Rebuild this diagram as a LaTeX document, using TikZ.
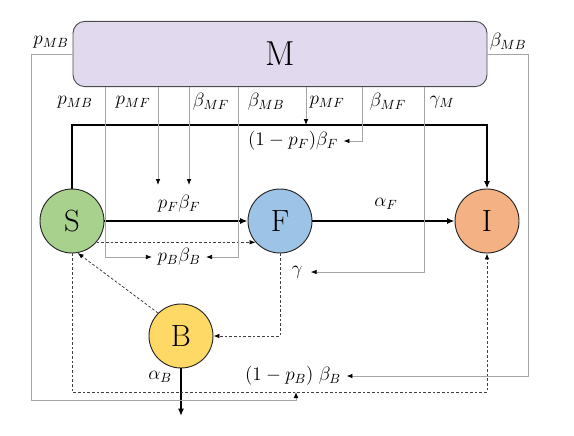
\documentclass[tikz,border=0pt]{standalone}
\usetikzlibrary{arrows.meta}
\definecolor{lav}{RGB}{225,218,238}
\definecolor{cS}{RGB}{169,209,142}
\definecolor{cF}{RGB}{157,195,230}
\definecolor{cI}{RGB}{244,177,131}
\definecolor{cB}{RGB}{255,217,102}
\definecolor{gl}{RGB}{165,165,165}
\begin{document}
\begin{tikzpicture}[x=0.75pt,y=-0.75pt,
  state/.style={circle,draw=black!85,line width=0.7pt,minimum size=48pt,inner sep=0pt,font=\fontsize{23}{23}\selectfont},
  lab/.style={inner sep=0pt,font=\fontsize{14.5}{16}\selectfont},
  gline/.style={draw=gl,line width=0.6pt},
  garr/.style={gline,-{Latex[length=4.5pt,width=3.5pt,color=black]}},
  mainarr/.style={line width=1.1pt,-{Latex[length=5.5pt,width=4.5pt]}},
  dasharr/.style={draw=black!75,line width=0.6pt,dash pattern=on 2pt off 1.5pt,-{Latex[length=4.5pt,width=3.5pt,color=black]}}]
\useasboundingbox (0,0) rectangle (574,435);

\node[draw=black!70,line width=0.7pt,fill=lav,rounded corners=9pt,minimum width=310.5pt,minimum height=49pt,inner sep=0pt,font=\fontsize{26}{26}\selectfont] (M) at (280,54) {M};

\node[state,fill=cS] (S) at (72,221) {S};
\node[state,fill=cF] (F) at (280,221) {F};
\node[state,fill=cI] (I) at (487,221) {I};
\node[state,fill=cB] (B) at (181,336) {B};

% helper coordinates
\coordinate (top) at (0,125);
\coordinate (bot) at (0,392);
\coordinate (outer) at (0,400);
\coordinate (xL) at (31,0);
\coordinate (xR) at (528,0);
\coordinate (x1) at (105,0);
\coordinate (x2) at (158,0);
\coordinate (x3) at (189,0);
\coordinate (x4) at (238,0);
\coordinate (x5) at (306,0);
\coordinate (x6) at (362,0);
\coordinate (x7) at (424,0);
\coordinate (xA) at (296,0);
\coordinate (ymid) at (0,185);

% labels
\node[lab] (lpMBl) at (51,42) {$p_{MB}$};
\node[lab] (lbMBr) at (508,42) {$\beta_{MB}$};
\node[lab] (l1) at (75,102) {$p_{MB}$};
\node[lab] (l2) at (133,102) {$p_{MF}$};
\node[lab] (l3) at (211,102) {$\beta_{MF}$};
\node[lab] (l4) at (266,102) {$\beta_{MB}$};
\node[lab] (l5) at (327,102) {$p_{MF}$};
\node[lab] (l6) at (388,102) {$\beta_{MF}$};
\node[lab] (l7) at (442,102) {$\gamma_{M}$};
\node[lab] (pFbF) at (179,204) {$p_F\beta_F$};
\node[lab] (pBbB) at (179,257) {$p_B\beta_B$};
\node[lab] (opF) at (293,141) {$(1-p_F)\beta_F$};
\node[lab] (gam) at (297,272) {$\gamma$};
\node[lab] (aF) at (386,204) {$\alpha_F$};
\node[lab] (aB) at (160,377) {$\alpha_B$};
\node[lab] (opB) at (293,376) {$(1-p_B)\;\beta_B$};
\coordinate (Bout) at (181,416);

% main flows
\draw[mainarr] (S) -- (F);
\draw[mainarr] (F) -- (I);
\draw[mainarr] (S.north) -- (S.north |- top) -| (I.north);
\draw[mainarr] (B.south) -- (Bout);

% dashed flows
\draw[dasharr] (S.-41) -- (F.-139);
\draw[dasharr] (F.south) |- (B.east);
\draw[dasharr] (B.135) -- (S.-80);
\draw[dasharr] (S.south) -- (S.south |- bot) -| (I.south);

% gray modifier lines
\draw[garr] (M.west) -| (xL |- outer) -| (xA |- bot);
\draw[garr] (M.east) -| (xR |- opB) -- ([xshift=4pt]opB.east);
\draw[garr] (x1 |- M.south) |- ([xshift=-4pt]pBbB.west);
\draw[garr] (x2 |- M.south) -- (x2 |- ymid);
\draw[garr] (x3 |- M.south) -- (x3 |- ymid);
\draw[garr] (x4 |- M.south) |- ([xshift=4pt]pBbB.east);
\draw[garr] (x5 |- M.south) -- (x5 |- top);
\draw[garr] (x6 |- M.south) |- ([xshift=4pt]opF.east);
\draw[garr] (x7 |- M.south) |- ([xshift=6pt]gam.east);
\end{tikzpicture}
\end{document}
